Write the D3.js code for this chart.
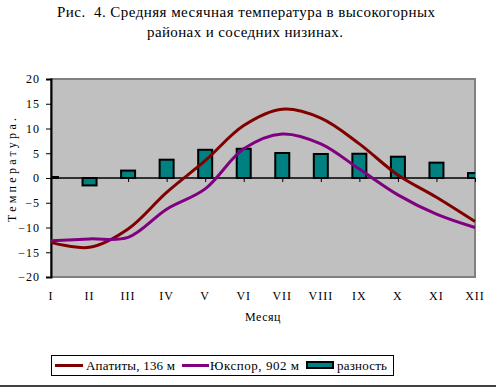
<!DOCTYPE html>
<html>
<head>
<meta charset="utf-8">
<script src="https://cdn.jsdelivr.net/npm/d3@7"></script>
<style>
  body { margin: 0; background: #fff; }
  text { font-family: "Liberation Serif", "Times New Roman", serif; fill: #000; white-space: pre; }
</style>
</head>
<body>
<div id="chart"></div>
<script>
// Data
const months = ["I", "II", "III", "IV", "V", "VI", "VII", "VIII", "IX", "X", "XI", "XII"];
const apatity = [-13.0, -14.0, -10.3, -2.9, 3.5, 10.6, 13.9, 12.1, 6.9, 0.6, -3.9, -8.8];
const yukspor = [-12.7, -12.3, -12.0, -6.3, -2.2, 5.9, 8.9, 6.9, 1.8, -3.4, -7.3, -10.0];
const diff = [0.2, -1.5, 1.5, 3.7, 5.7, 5.9, 5.05, 4.85, 4.9, 4.3, 3.1, 1.0];
const yTicks = [20, 15, 10, 5, 0, -5, -10, -15, -20];

const W = 496, H = 387;
const plot = {left: 51, right: 475, top: 79, bottom: 277};

const svg = d3.select("#chart").append("svg")
    .attr("width", W)
    .attr("height", H);

// Title
const title = svg.append("text")
    .attr("text-anchor", "middle")
    .style("font-size", "15px");
title.append("tspan").attr("x", 246).attr("y", 17)
    .attr("textLength", 378).attr("lengthAdjust", "spacing")
    .text("Рис.  4. Средняя месячная температура в высокогорных");
title.append("tspan").attr("x", 245).attr("y", 37)
    .attr("textLength", 196).attr("lengthAdjust", "spacing")
    .text("районах и соседних низинах.");

// Scales
const x = d3.scalePoint()
    .domain(months)
    .range([plot.left, plot.right]);

const y = d3.scaleLinear()
    .domain([-20, 20])
    .range([plot.bottom, plot.top]);

// Plot area
svg.append("rect")
    .attr("x", plot.left)
    .attr("y", plot.top)
    .attr("width", plot.right - plot.left)
    .attr("height", plot.bottom - plot.top)
    .attr("fill", "#c0c0c0")
    .attr("stroke", "#808080")
    .attr("stroke-width", 2);

svg.append("clipPath").attr("id", "clip")
  .append("rect")
    .attr("x", plot.left)
    .attr("y", plot.top)
    .attr("width", plot.right - plot.left)
    .attr("height", plot.bottom - plot.top);

// Y axis
const yAxis = svg.append("g")
    .attr("transform", `translate(${plot.left},0)`)
    .call(d3.axisLeft(y).tickValues(yTicks).tickSize(5).tickPadding(6));
yAxis.select(".domain").attr("stroke", "#000").attr("stroke-width", 2);
yAxis.selectAll("text")
    .style("font-family", "Liberation Serif, serif")
    .style("font-size", "12px")
    .style("letter-spacing", "1px");

// Zero line with month ticks
const xAxis = svg.append("g")
    .attr("transform", `translate(0,${y(0)})`)
    .call(d3.axisBottom(x).tickSize(4).tickFormat(""));
xAxis.select(".domain").attr("stroke", "#000").attr("stroke-width", 1.5)
    .attr("d", `M${plot.left},0H${plot.right}`);

// Month labels
svg.append("g").selectAll("text")
  .data(months)
  .join("text")
    .attr("x", d => x(d))
    .attr("y", 300)
    .attr("text-anchor", "middle")
    .style("font-size", "12px")
    .style("letter-spacing", "1px")
    .text(d => d);

// Bars
const barW = 14;
svg.append("g")
    .attr("clip-path", "url(#clip)")
  .selectAll("rect")
  .data(diff)
  .join("rect")
    .attr("x", (d, i) => x(months[i]) - barW / 2)
    .attr("y", d => y(Math.max(0, d)))
    .attr("width", barW)
    .attr("height", d => Math.abs(y(d) - y(0)))
    .attr("fill", "#008080")
    .attr("stroke", "#000")
    .attr("stroke-width", 2);

// Lines
const line = d3.line()
    .x((d, i) => x(months[i]))
    .y(d => y(d))
    .curve(d3.curveCatmullRom.alpha(0.5));

svg.append("path")
    .datum(apatity)
    .attr("d", line)
    .attr("fill", "none")
    .attr("stroke", "#800000")
    .attr("stroke-width", 3);

svg.append("path")
    .datum(yukspor)
    .attr("d", line)
    .attr("fill", "none")
    .attr("stroke", "#800080")
    .attr("stroke-width", 3);

// Axis titles
svg.append("text")
    .attr("x", 263)
    .attr("y", 321)
    .attr("text-anchor", "middle")
    .style("font-size", "12px")
    .style("letter-spacing", "0.5px")
    .text("Месяц");

svg.append("text")
    .attr("transform", "translate(16,170) rotate(-90)")
    .attr("text-anchor", "middle")
    .attr("textLength", 104).attr("lengthAdjust", "spacing")
    .style("font-size", "12px")
    .text("Температура.");

// Legend
const legend = svg.append("g");
legend.append("rect")
    .attr("x", 51.5).attr("y", 355.5)
    .attr("width", 342).attr("height", 20)
    .attr("fill", "#fff").attr("stroke", "#000");

legend.append("line")
    .attr("x1", 55).attr("x2", 83).attr("y1", 365.5).attr("y2", 365.5)
    .attr("stroke", "#800000").attr("stroke-width", 3);
legend.append("text").attr("x", 86).attr("y", 370)
    .attr("textLength", 89).attr("lengthAdjust", "spacing")
    .style("font-size", "13px").text("Апатиты, 136 м");

legend.append("line")
    .attr("x1", 182).attr("x2", 209).attr("y1", 365.5).attr("y2", 365.5)
    .attr("stroke", "#800080").attr("stroke-width", 3);
legend.append("text").attr("x", 210).attr("y", 370)
    .attr("textLength", 89).attr("lengthAdjust", "spacing")
    .style("font-size", "13px").text("Юкспор, 902 м");

legend.append("rect")
    .attr("x", 307).attr("y", 362)
    .attr("width", 26).attr("height", 6)
    .attr("fill", "#008080").attr("stroke", "#000").attr("stroke-width", 2);
legend.append("text").attr("x", 337).attr("y", 370)
    .attr("textLength", 50).attr("lengthAdjust", "spacing")
    .style("font-size", "13px").text("разность");

// Bottom frame line
svg.append("line")
    .attr("x1", 0).attr("x2", W)
    .attr("y1", 386).attr("y2", 386)
    .attr("stroke", "#000").attr("stroke-width", 1.5);
</script>
</body>
</html>
